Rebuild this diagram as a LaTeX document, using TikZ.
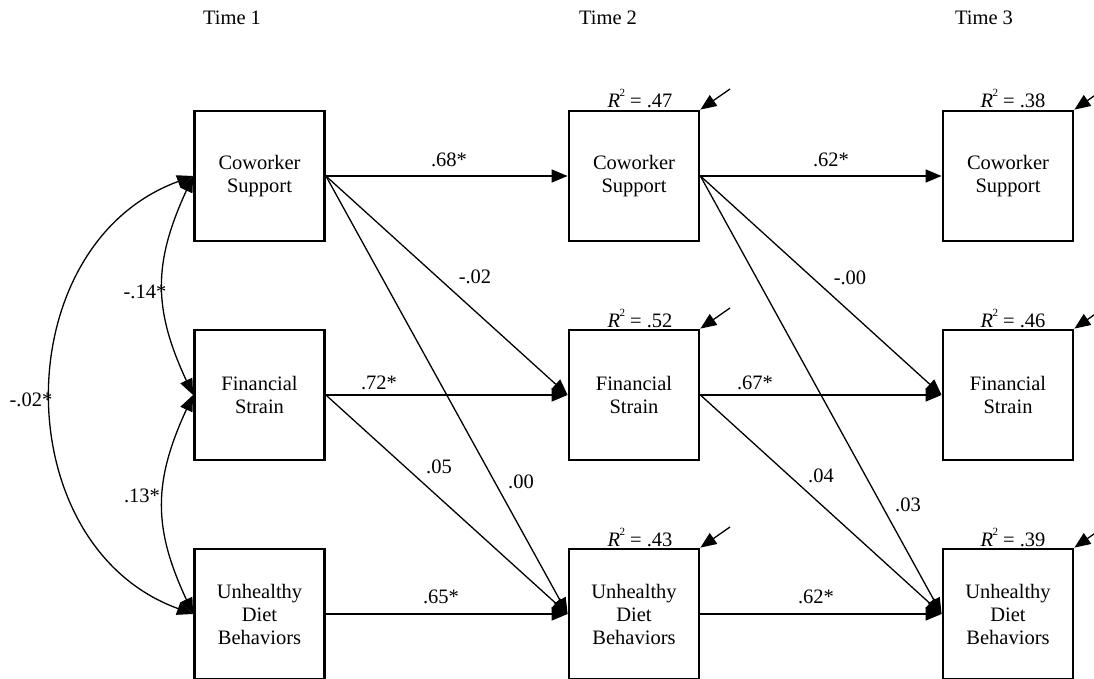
\documentclass[tikz,border=0pt]{standalone}
\usepackage{fontspec}
\setmainfont{Liberation Serif}
\usetikzlibrary{arrows.meta}
\newcommand\myfs{\fontsize{20.5pt}{23pt}\selectfont}
\newcommand\rsq[1]{\textit{R}\kern-0.5pt\raisebox{11pt}{\fontsize{11pt}{11pt}\selectfont 2} = #1}
\begin{document}
\begin{tikzpicture}[x=1pt,y=-1pt,
  box/.style={draw, line width=2.8pt, minimum width=130pt, minimum height=130pt, inner sep=0pt, align=center, font=\myfs},
  lbl/.style={font=\myfs, inner sep=0pt},
  rs/.style={font=\myfs, inner sep=0pt, anchor=base},
  arr/.style={line width=1.3pt, -{Triangle[length=16pt,width=13pt]}},
  dbl/.style={line width=1.3pt, {Triangle[length=16pt,width=13pt]}-{Triangle[length=16pt,width=13pt]}}]
\useasboundingbox (0,0) rectangle (1094,679);
% time labels
\node[lbl] (t1) at (232,18) {Time 1};
\node[lbl] (t2) at (608,18) {Time 2};
\node[lbl] (t3) at (984,18) {Time 3};
% boxes
\node[box] (c1) at (259.5,176) {Coworker\\Support};
\node[box] (f1) at (259.5,395) {Financial\\Strain};
\node[box] (u1) at (259.5,614) {Unhealthy\\Diet\\Behaviors};
\node[box] (c2) at (634,176) {Coworker\\Support};
\node[box] (f2) at (634,395) {Financial\\Strain};
\node[box] (u2) at (634,614) {Unhealthy\\Diet\\Behaviors};
\node[box] (c3) at (1008,176) {Coworker\\Support};
\node[box] (f3) at (1008,395) {Financial\\Strain};
\node[box] (u3) at (1008,614) {Unhealthy\\Diet\\Behaviors};
% R squared
\node[rs] (rc2) at (640,108) {\rsq{.47}};
\node[rs] (rf2) at (640,327) {\rsq{.52}};
\node[rs] (ru2) at (640,546) {\rsq{.43}};
\node[rs] (rc3) at (1013,108) {\rsq{.38}};
\node[rs] (rf3) at (1013,327) {\rsq{.46}};
\node[rs] (ru3) at (1013,546) {\rsq{.39}};
% error arrows
\coordinate (ec2) at (730,89);
\coordinate (ef2) at (730,308);
\coordinate (eu2) at (730,527);
\coordinate (ec3) at (1104,89);
\coordinate (ef3) at (1104,308);
\coordinate (eu3) at (1104,527);
\draw[arr] (ec2) -- (c2.north east);
\draw[arr] (ef2) -- (f2.north east);
\draw[arr] (eu2) -- (u2.north east);
\draw[arr] (ec3) -- (c3.north east);
\draw[arr] (ef3) -- (f3.north east);
\draw[arr] (eu3) -- (u3.north east);
% paths T1 -> T2
\draw[arr] (c1.east) -- (c2.west);
\draw[arr] (c1.east) -- (f2.west);
\draw[arr] (c1.east) -- (u2.west);
\draw[arr] (f1.east) -- (f2.west);
\draw[arr] (f1.east) -- (u2.west);
\draw[arr] (u1.east) -- (u2.west);
% paths T2 -> T3
\draw[arr] (c2.east) -- (c3.west);
\draw[arr] (c2.east) -- (f3.west);
\draw[arr] (c2.east) -- (u3.west);
\draw[arr] (f2.east) -- (f3.west);
\draw[arr] (f2.east) -- (u3.west);
\draw[arr] (u2.east) -- (u3.west);
% covariances
\draw[dbl] (c1.west) .. controls (153,263) and (153,309) .. (f1.west);
\draw[dbl] (f1.west) .. controls (153,482) and (153,528) .. (u1.west);
\draw[dbl] (c1.west) .. controls (5,245) and (5,546) .. (u1.west);
% labels
\node[lbl] (l1) at (449,160) {.68*};
\node[lbl] (l2) at (475,277) {-.02};
\node[lbl] (l3) at (379,383) {.72*};
\node[lbl] (l4) at (439,467) {.05};
\node[lbl] (l5) at (521,482) {.00};
\node[lbl] (l6) at (441,597) {.65*};
\node[lbl] (l7) at (831,160) {.62*};
\node[lbl] (l8) at (850,278) {-.00};
\node[lbl] (l9) at (755,383) {.67*};
\node[lbl] (l10) at (821,476) {.04};
\node[lbl] (l11) at (908,505) {.03};
\node[lbl] (l12) at (816,597) {.62*};
\node[lbl] (l13) at (145,292) {-.14*};
\node[lbl] (l14) at (142,496) {.13*};
\node[lbl] (l15) at (31,400) {-.02*};
\end{tikzpicture}
\end{document}
